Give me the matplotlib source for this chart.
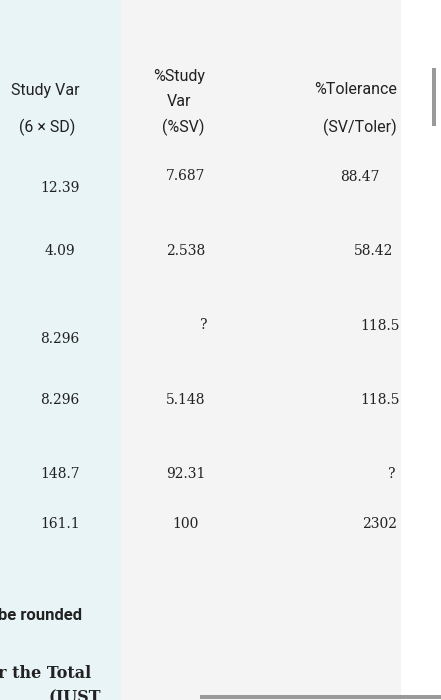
import matplotlib
matplotlib.use("Agg")
import matplotlib.pyplot as plt
from matplotlib.patches import Rectangle

col1 = ["12.39", "4.09", "8.296", "8.296", "148.7", "161.1"]
col1_y = [188, 251, 339, 400, 474, 524]
col2 = ["7.687", "2.538", "?", "5.148", "92.31", "100"]
col2_y = [176, 251, 325, 400, 474, 524]
col3 = ["88.47", "58.42", "118.5", "118.5", "?", "2302"]
col3_y = [177, 251, 326, 400, 474, 524]
col2_x = [186, 186, 204, 186, 186, 186]
col3_x = [360, 374, 380, 380, 392, 380]

W, H = 441, 700
fig = plt.figure(figsize=(W/100, H/100), dpi=100)
ax = fig.add_axes([0, 0, 1, 1])
ax.set_xlim(0, W); ax.set_ylim(H, 0); ax.axis("off")

ax.add_patch(Rectangle((0, 0), 121, H, color="#e9f4f7", lw=0))
ax.add_patch(Rectangle((121, 0), 280, H, color="#f4f4f4", lw=0))
ax.add_patch(Rectangle((432, 68), 4, 58, color="#9a9a9a", lw=0))
ax.add_patch(Rectangle((200, 695), 241, 4, color="#9a9a9a", lw=0))

hf = dict(family="Roboto", fontsize=11.5, color="#222222", ha="center", va="center")
ax.text(45, 90, "Study Var", **hf)
ax.text(47, 127, "(6 × SD)", **hf)
ax.text(179, 77, "%Study", **hf)
ax.text(179, 101, "Var", **hf)
ax.text(183, 127, "(%SV)", **hf)
ax.text(356, 89, "%Tolerance", **hf)
ax.text(360, 127, "(SV/Toler)", **hf)

nf = dict(family="DejaVu Serif", fontsize=10, color="#222222", ha="center", va="center")
for t, y in zip(col1, col1_y):
    ax.text(60, y, t, **nf)
for t, x, y in zip(col2, col2_x, col2_y):
    ax.text(x, y, t, **nf)
for t, x, y in zip(col3, col3_x, col3_y):
    ax.text(x, y, t, **nf)

ax.text(-2, 615, "be rounded", family="Roboto", fontsize=12, fontweight="bold",
        color="#222222", ha="left", va="center")
ax.text(-2, 673, "r the Total", family="DejaVu Serif", fontsize=11.5, fontweight="bold",
        color="#222222", ha="left", va="center")
ax.text(48, 697, "(JUST", family="DejaVu Serif", fontsize=11.5, fontweight="bold",
        color="#222222", ha="left", va="center")

fig.savefig("out.png", dpi=100)
